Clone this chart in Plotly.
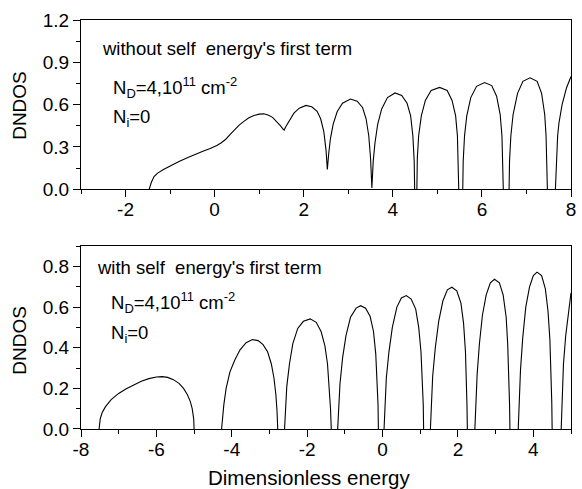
import plotly.graph_objects as go

# Upper panel: without self energy's first term
top_energy = [-1.47, -1.42, -1.36, -1.28, -1.15, -1.0, -0.8, -0.6, -0.43, -0.25, -0.1, 0.05, 0.15, 0.25,
              0.35, 0.45, 0.55, 0.65, 0.76, 0.88, 1.0, 1.1, 1.2, 1.3, 1.4, 1.48, 1.54, 1.56,
              1.6, 1.68, 1.78, 1.9, 2.05, 2.18, 2.3, 2.38, 2.45, 2.5, 2.53,
              2.56, 2.6, 2.66, 2.75, 2.87, 3.05, 3.2, 3.32, 3.4, 3.46, 3.5, 3.53,
              3.56, 3.6, 3.66, 3.75, 3.88, 4.05, 4.2, 4.32, 4.4, 4.45, 4.48, 4.49, None, 4.54,
              4.55, 4.58, 4.64, 4.73, 4.86, 5.05, 5.22, 5.33, 5.41, 5.45, 5.47, 5.48, None, 5.57,
              5.58, 5.61, 5.66, 5.75, 5.88, 6.06, 6.22, 6.33, 6.41, 6.45, 6.47, 6.48, None, 6.61,
              6.62, 6.65, 6.7, 6.8, 6.92, 7.08, 7.24, 7.34, 7.41, 7.44, 7.46, 7.47, None, 7.65,
              7.67, 7.7, 7.73, 7.8, 7.9, 8.0]
top_dndos = [0.0, 0.05, 0.09, 0.115, 0.14, 0.165, 0.197, 0.225, 0.25, 0.272, 0.29, 0.31, 0.33, 0.355,
             0.39, 0.425, 0.455, 0.48, 0.505, 0.523, 0.533, 0.535, 0.527, 0.51, 0.48, 0.45, 0.425, 0.42,
             0.445, 0.49, 0.54, 0.575, 0.595, 0.585, 0.553, 0.5, 0.41, 0.28, 0.14,
             0.25, 0.36, 0.46, 0.55, 0.61, 0.64, 0.625, 0.58, 0.5, 0.38, 0.22, 0.01,
             0.2, 0.33, 0.46, 0.57, 0.65, 0.683, 0.665, 0.61, 0.52, 0.38, 0.2, 0.0, None, 0.0,
             0.22, 0.38, 0.52, 0.63, 0.70, 0.722, 0.70, 0.63, 0.52, 0.38, 0.2, 0.0, None, 0.0,
             0.2, 0.38, 0.52, 0.65, 0.73, 0.757, 0.735, 0.66, 0.53, 0.38, 0.2, 0.0, None, 0.0,
             0.2, 0.38, 0.53, 0.68, 0.765, 0.79, 0.765, 0.68, 0.53, 0.38, 0.2, 0.0, None, 0.0,
             0.2, 0.38, 0.47, 0.6, 0.72, 0.80]

# Lower panel: with self energy's first term
bot_energy = [-7.52, -7.49, -7.44, -7.35, -7.2, -7.0, -6.8, -6.6, -6.4, -6.2, -6.0, -5.85, -5.7, -5.55,
              -5.4, -5.28, -5.18, -5.1, -5.05, -5.01, -5.0, None,
              -4.27, -4.25, -4.21, -4.15, -4.05, -3.92, -3.78, -3.62, -3.45, -3.3, -3.17, -3.05, -2.95,
              -2.88, -2.83, -2.8, -2.78, None,
              -2.6, -2.58, -2.54, -2.47, -2.38, -2.25, -2.1, -1.92, -1.76, -1.63, -1.53, -1.46, -1.41,
              -1.38, -1.36, None,
              -1.19, -1.17, -1.13, -1.06, -0.97, -0.85, -0.7, -0.58, -0.45, -0.33, -0.24, -0.18, -0.14,
              -0.12, -0.11, None,
              0.04, 0.06, 0.1, 0.17, 0.26, 0.38, 0.5, 0.63, 0.76, 0.88, 0.96, 1.02, 1.06, 1.08, 1.09, None,
              1.27, 1.29, 1.33, 1.4, 1.49, 1.6, 1.72, 1.84, 1.97, 2.08, 2.15, 2.2, 2.23, 2.24, 2.25, None,
              2.45, 2.47, 2.51, 2.57, 2.65, 2.75, 2.86, 2.97, 3.1, 3.2, 3.28, 3.32, 3.35, 3.37, 3.38, None,
              3.6, 3.62, 3.66, 3.72, 3.8, 3.9, 4.0, 4.1, 4.22, 4.32, 4.39, 4.44, 4.47, 4.49, 4.5, None,
              4.74, 4.76, 4.8, 4.86, 4.93, 5.0]
bot_dndos = [0.0, 0.05, 0.08, 0.11, 0.145, 0.175, 0.198, 0.218, 0.235, 0.248, 0.256, 0.258, 0.254, 0.243,
             0.225, 0.2, 0.17, 0.135, 0.1, 0.05, 0.0, None,
             0.0, 0.06, 0.12, 0.2, 0.28, 0.34, 0.39, 0.425, 0.44, 0.435, 0.415, 0.38, 0.32,
             0.25, 0.17, 0.09, 0.0, None,
             0.0, 0.1, 0.21, 0.32, 0.42, 0.495, 0.53, 0.542, 0.525, 0.48, 0.41, 0.32, 0.21,
             0.1, 0.0, None,
             0.0, 0.1, 0.22, 0.35, 0.46, 0.55, 0.595, 0.607, 0.595, 0.555, 0.48, 0.37, 0.24,
             0.12, 0.0, None,
             0.0, 0.12, 0.25, 0.38, 0.5, 0.6, 0.645, 0.657, 0.64, 0.59, 0.5, 0.38, 0.25, 0.12, 0.0, None,
             0.0, 0.12, 0.26, 0.4, 0.53, 0.63, 0.685, 0.698, 0.68, 0.62, 0.52, 0.38, 0.24, 0.12, 0.0, None,
             0.0, 0.12, 0.27, 0.42, 0.56, 0.66, 0.72, 0.737, 0.72, 0.66, 0.55, 0.42, 0.27, 0.12, 0.0, None,
             0.0, 0.13, 0.29, 0.45, 0.6, 0.7, 0.755, 0.772, 0.755, 0.69, 0.58, 0.44, 0.28, 0.13, 0.0, None,
             0.0, 0.15, 0.32, 0.46, 0.58, 0.67]

# Tick labels (plain hyphen minus, as in the reference)
top_xticks = [-2, 0, 2, 4, 6, 8]
top_xlabels = ["-2", "0", "2", "4", "6", "8"]
bot_xticks = [-8, -6, -4, -2, 0, 2, 4]
bot_xlabels = ["-8", "-6", "-4", "-2", "0", "2", "4"]

FONT = "Liberation Sans, Arial, Helvetica, sans-serif"
tickfont = dict(family=FONT, size=19, color="black")

fig = go.Figure()
line = dict(color="black", width=1.1)
fig.add_trace(go.Scatter(x=top_energy, y=top_dndos, mode="lines", line=line,
                         xaxis="x", yaxis="y", hoverinfo="skip", connectgaps=False))
fig.add_trace(go.Scatter(x=bot_energy, y=bot_dndos, mode="lines", line=line,
                         xaxis="x2", yaxis="y2", hoverinfo="skip", connectgaps=False))

common = dict(showline=True, linecolor="black", linewidth=1, mirror=True,
              ticks="outside", tickcolor="black", tickwidth=1, ticklen=7,
              showgrid=False, zeroline=False, tickfont=tickfont)
minor_x = dict(dtick=1, tick0=0, ticks="outside", ticklen=4, tickcolor="black", showgrid=False)
top_ticks = dict(side="top", ticks="inside", ticklen=5, tickcolor="black", dtick=1,
                 showticklabels=False, showline=False, showgrid=False, zeroline=False)

fig.update_layout(
    width=582, height=489,
    margin=dict(l=81, r=6, t=20, b=60),
    plot_bgcolor="white", paper_bgcolor="white", showlegend=False,
    xaxis=dict(domain=[0, 1], anchor="y", range=[-3, 8], tickmode="array",
               tickvals=top_xticks, ticktext=top_xlabels, ticklabelstandoff=-4,
               minor=minor_x, **common),
    yaxis=dict(domain=[0.586, 1], anchor="x", range=[0, 1.2], tick0=0, dtick=0.3,
               tickformat=".1f",
               minor=dict(tick0=0, dtick=0.15, ticks="outside", ticklen=4, tickcolor="black", showgrid=False),
               **common),
    xaxis2=dict(domain=[0, 1], anchor="y2", range=[-8, 5], tickmode="array",
                tickvals=bot_xticks, ticktext=bot_xlabels, ticklabelstandoff=-4,
                minor=minor_x, **common),
    yaxis2=dict(domain=[0, 0.447], anchor="x2", range=[0, 0.9], tick0=0, dtick=0.2,
                tickformat=".1f",
                minor=dict(tick0=0, dtick=0.1, ticks="outside", ticklen=4, tickcolor="black", showgrid=False),
                **common),
    xaxis3=dict(overlaying="x", anchor="y", range=[-3, 8], tick0=0, **top_ticks),
    xaxis4=dict(overlaying="x2", anchor="y2", range=[-8, 5], tick0=0, **top_ticks),
)

def ann(text, x, y, size=18.5, angle=0, xanchor="left"):
    fig.add_annotation(text=text, x=x, y=y, xref="paper", yref="paper", showarrow=False,
                       xanchor=xanchor, yanchor="middle", textangle=angle,
                       font=dict(family=FONT, size=size, color="black"))

ann("without self\u00a0 energy's first term", 0.0384, 0.9315)
ann("N<sub>D</sub>=4,10<sup>11</sup> cm<sup>-2</sup>", 0.062, 0.835)
ann("N<sub>i</sub>=0", 0.062, 0.760)
ann("with self\u00a0 energy's first term", 0.0283, 0.396)
ann("N<sub>D</sub>=4,10<sup>11</sup> cm<sup>-2</sup>", 0.057, 0.310)
ann("N<sub>i</sub>=0", 0.057, 0.233)
ann("DNDOS", -0.127, 0.792, size=19, angle=-90, xanchor="center")
ann("DNDOS", -0.127, 0.2176, size=19, angle=-90, xanchor="center")
ann("Dimensionless energy", 0.4646, -0.1174, size=20.5, xanchor="center")

fig.write_html("out.html")
